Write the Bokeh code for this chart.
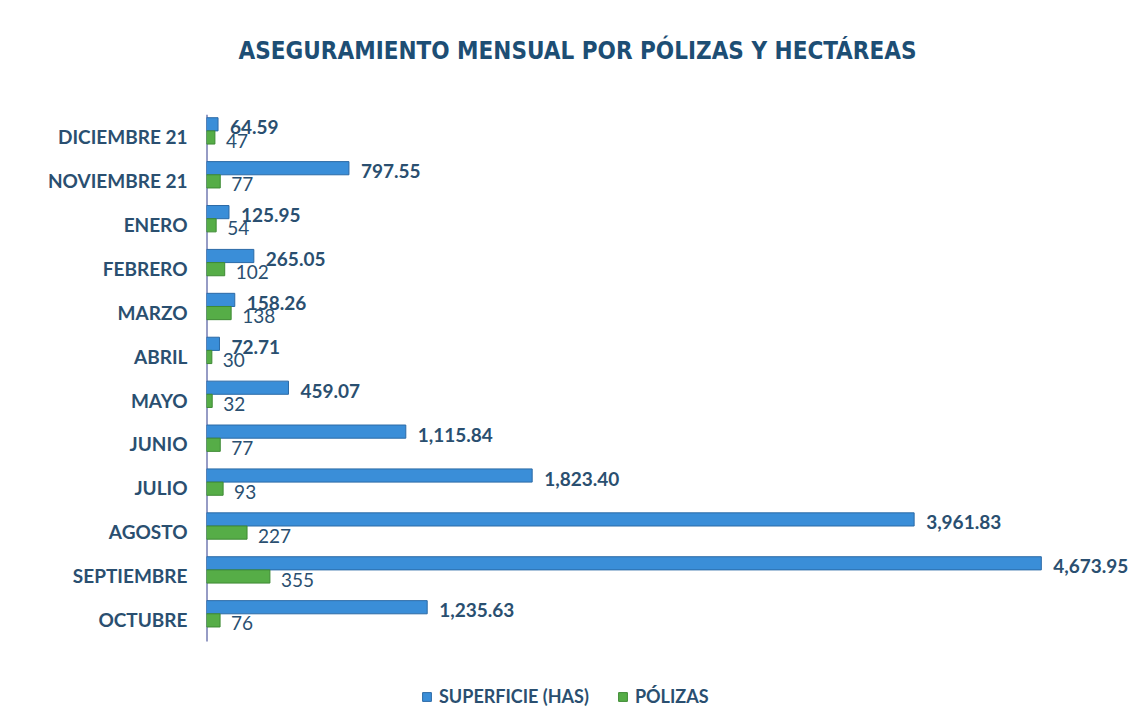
from bokeh.plotting import figure
from bokeh.models import (ColumnDataSource, Range1d, LabelSet, Legend, LegendItem, Label,
                          FixedTicker)
from bokeh.transform import dodge
from bokeh.core.properties import value
from bokeh.embed import file_html
from bokeh.resources import INLINE

# ---- data (top to bottom as shown) ----
months = ["DICIEMBRE 21", "NOVIEMBRE 21", "ENERO", "FEBRERO", "MARZO", "ABRIL",
          "MAYO", "JUNIO", "JULIO", "AGOSTO", "SEPTIEMBRE", "OCTUBRE"]
superficie = [64.59, 797.55, 125.95, 265.05, 158.26, 72.71,
              459.07, 1115.84, 1823.40, 3961.83, 4673.95, 1235.63]
polizas = [47, 77, 54, 102, 138, 30, 32, 77, 93, 227, 355, 76]
series_names = ["SUPERFICIE (HAS)", "PÓLIZAS"]
title_text = "ASEGURAMIENTO MENSUAL POR PÓLIZAS Y HECTÁREAS"

BLUE = "#3a8ed8"
BLUE_EDGE = "#2b6aa6"
GREEN = "#56ad47"
GREEN_EDGE = "#3e8a34"
TXT = "#2a4f70"

n = len(months)
pos = [n - 1 - i for i in range(n)]  # top category highest

src = ColumnDataSource(dict(
    month=months,
    pos=pos,
    sup=superficie,
    pol=polizas,
    sup_lbl=[f"{v:,.2f}" for v in superficie],
    pol_lbl=[f"{v:,d}" for v in polizas],
))

FW, FH = 922, 717
p = figure(frame_width=FW, frame_height=FH, output_backend="svg", toolbar_location=None,
           y_range=Range1d(-2.232, 14.10),
           x_range=Range1d(0, 5162),
           min_border_left=206, min_border_right=0,
           min_border_top=0, min_border_bottom=0)
p.outline_line_color = None
p.background_fill_color = "white"
p.border_fill_color = "white"
p.xgrid.visible = False
p.ygrid.visible = False
p.xaxis.visible = False

ya = p.yaxis[0]
ya.ticker = FixedTicker(ticks=pos)
ya.major_label_overrides = {pp: m for pp, m in zip(pos, months)}
ya.axis_line_color = None
ya.major_tick_line_color = None
ya.minor_tick_line_color = None
ya.major_label_standoff = 13
ya.major_label_text_font = "Lato"
ya.major_label_text_font_style = "bold"
ya.major_label_text_font_size = "19px"
ya.major_label_text_color = TXT

# category axis line spanning the category band
p.segment(x0=[0], x1=[0], y0=[min(pos) - 0.5], y1=[max(pos) + 0.5],
          line_color="#2e3a8c", line_width=2)

r1 = p.hbar(y=dodge("pos", 0.28), right="sup", left=0, height=0.3,
            source=src, fill_color=BLUE, line_color=BLUE_EDGE, line_width=1)
r2 = p.hbar(y=dodge("pos", -0.02), right="pol", left=0, height=0.3,
            source=src, fill_color=GREEN, line_color=GREEN_EDGE, line_width=1)

l1 = LabelSet(x="sup", y=dodge("pos", 0.21), text="sup_lbl", source=src,
              x_offset=12, text_baseline="middle", text_font=value("Lato"),
              text_font_style="bold", text_font_size="19px", text_color=TXT)
l2 = LabelSet(x="pol", y=dodge("pos", -0.09), text="pol_lbl", source=src,
              x_offset=11, text_baseline="middle", text_font=value("Lato"),
              text_font_style="normal", text_font_size="19px", text_color=TXT)
p.add_layout(l1)
p.add_layout(l2)

# screen units are relative to the frame's bottom-left corner
title_lbl = Label(x=371, y=FH - 50, x_units="screen", y_units="screen", text=title_text,
                  text_align="center", text_baseline="middle",
                  text_font="'DejaVu Sans Condensed', 'Liberation Sans', sans-serif",
                  text_font_style="bold", text_font_size="24px", text_color="#1d4e74")
p.add_layout(title_lbl)

legend = Legend(items=[LegendItem(label=series_names[0], renderers=[r1]),
                       LegendItem(label=series_names[1], renderers=[r2])],
                orientation="horizontal", location=(215, 10),
                label_text_font="Lato", label_text_font_style="bold",
                label_text_font_size="18px", label_text_color=TXT,
                glyph_width=11, glyph_height=11, label_standoff=7, spacing=28,
                padding=4, margin=0,
                border_line_color=None, background_fill_alpha=0)
p.add_layout(legend, "center")

open("out.html", "w").write(file_html(p, INLINE))
